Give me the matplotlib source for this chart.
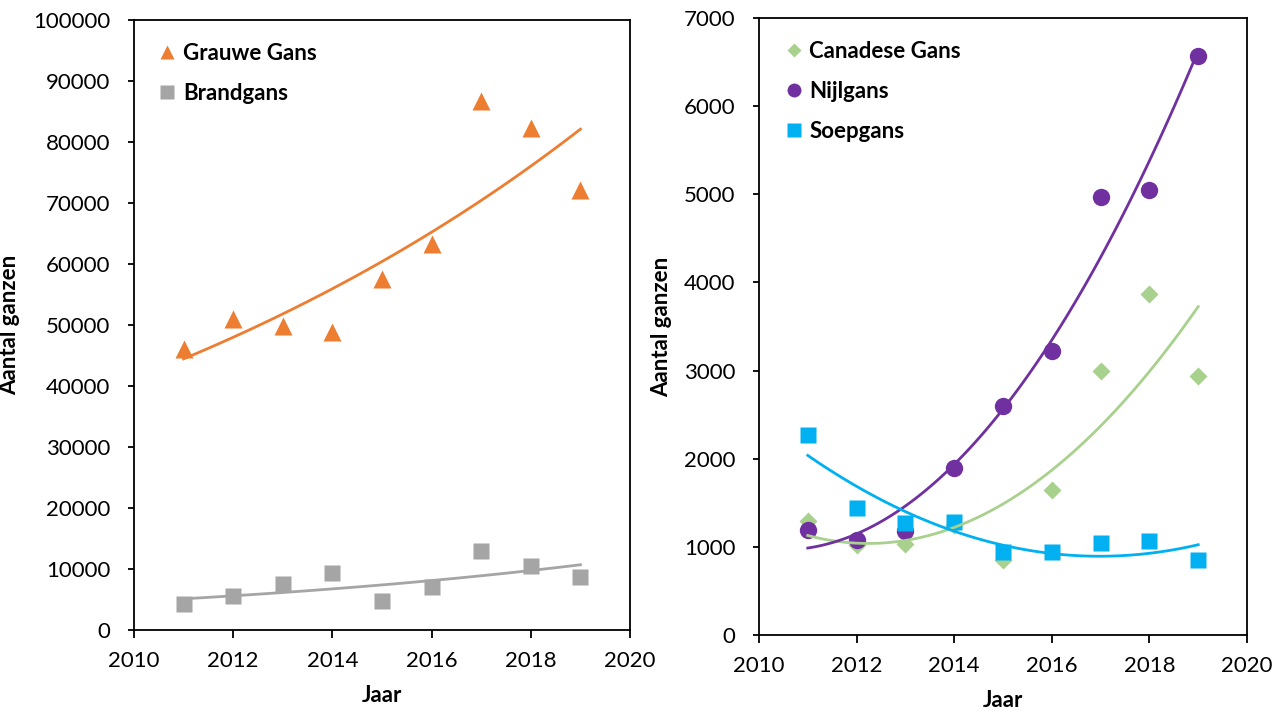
import matplotlib
matplotlib.use('Agg')
import matplotlib.pyplot as plt
import numpy as np

plt.rcParams['font.family'] = ['Lato', 'DejaVu Sans']

# data
jaren = [2011, 2012, 2013, 2014, 2015, 2016, 2017, 2018, 2019]
grauwe_gans = [46000, 51000, 49900, 48800, 57600, 63200, 86700, 82300, 72200]
brandgans = [4300, 5500, 7600, 9400, 4700, 7000, 13000, 10500, 8700]
canadese_gans = [1290, 1025, 1033, 1250, 855, 1641, 2997, 3874, 2943]
nijlgans = [1187, 1082, 1175, 1896, 2595, 3219, 4972, 5047, 6564]
soepgans = [2266, 1437, 1271, 1283, 938, 942, 1044, 1062, 847]

ORANGE = '#ED7D31'
GRAY = '#A5A5A5'
GREEN = '#A9D18E'
PURPLE = '#7030A0'
BLUE = '#00B0F0'


# excel-style trend lines
def exp_trend(x, y, xs):
	b, a = np.polyfit(x, np.log(y), 1)
	return np.exp(a + b*xs)

def poly_trend(x, y, xs):
	return np.polyval(np.polyfit(x, y, 2), xs)


def style_axes(ax, ymax, ystep, ylab_x):
	ax.set_xlim(2010, 2020)
	ax.set_ylim(0, ymax)
	ax.set_xticks(range(2010, 2021, 2))
	ax.set_yticks(range(0, ymax + 1, ystep))
	for s in ax.spines.values():
		s.set_linewidth(1.3)
	ax.tick_params(axis='x', direction='out', length=6, width=1.3, pad=9, labelsize=16)
	ax.tick_params(axis='y', direction='out', length=4, width=1.3, pad=13, labelsize=16)
	ax.set_xlabel('Jaar', fontsize=16, fontweight='bold', labelpad=10)
	ax.set_ylabel('Aantal ganzen', fontsize=16, fontweight='bold')
	ax.yaxis.set_label_coords(ylab_x, 0.5)


def add_legend(ax, x0, y0):
	ax.legend(loc='upper left', bbox_to_anchor=(x0, y0), borderaxespad=0, frameon=False,
		handlelength=0.6, handletextpad=0.4, labelspacing=0.85, markerscale=0.8,
		prop={'weight': 'bold', 'size': 16})


fig = plt.figure(figsize=(12.87, 7.16), dpi=100)
ax1 = fig.add_axes([134/1287, 86/716, 496/1287, 610/716])
ax2 = fig.add_axes([759/1287, 81/716, 488/1287, 617/716])

x = np.array(jaren)
xs = np.linspace(2011, 2019, 100)

# left panel
ax1.plot(x, grauwe_gans, '^', color=ORANGE, ms=13, mec='none', label='Grauwe Gans')
ax1.plot(x, brandgans, 's', color=GRAY, ms=12, mec='none', label='Brandgans')
ax1.plot(xs, exp_trend(x, grauwe_gans, xs), '-', color=ORANGE, lw=2)
ax1.plot(xs, exp_trend(x, brandgans, xs), '-', color=GRAY, lw=2)
style_axes(ax1, 100000, 10000, -0.23)
add_legend(ax1, 0.036, 0.977)

# right panel
ax2.plot(x, canadese_gans, 'D', color=GREEN, ms=9, mec='none', label='Canadese Gans')
ax2.plot(x, nijlgans, 'o', color=PURPLE, ms=12.5, mec='none', label='Nijlgans')
ax2.plot(x, soepgans, 's', color=BLUE, ms=12, mec='none', label='Soepgans')
ax2.plot(xs, poly_trend(x, canadese_gans, xs), '-', color=GREEN, lw=2)
ax2.plot(xs, poly_trend(x, nijlgans, xs), '-', color=PURPLE, lw=2)
ax2.plot(xs, poly_trend(x, soepgans, xs), '-', color=BLUE, lw=2)
style_axes(ax2, 7000, 1000, -0.178)
add_legend(ax2, 0.039, 0.977)

plt.savefig('out.png', dpi=100)
